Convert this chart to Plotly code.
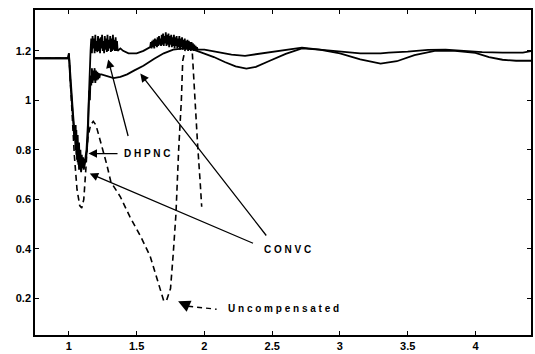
import plotly.graph_objects as go

# ---- data ----
dhpnc_x = [0.75, 0.995, 1.0, 1.01, 1.03, 1.045, 1.05, 1.055, 1.06, 1.065, 1.07, 1.075, 1.08, 1.085, 1.09,
           1.095, 1.10, 1.105, 1.11, 1.12, 1.13, 1.14, 1.145, 1.15, 1.155,
           1.160, 1.165, 1.170, 1.175, 1.180, 1.185, 1.190, 1.195, 1.200, 1.205, 1.210, 1.215, 1.220, 1.225,
           1.230, 1.235, 1.240, 1.245, 1.250, 1.255, 1.260, 1.265, 1.270, 1.275, 1.280, 1.285, 1.290, 1.295,
           1.300, 1.305, 1.310, 1.315, 1.320, 1.325, 1.330, 1.335, 1.340, 1.345, 1.350, 1.355, 1.360,
           1.38, 1.40, 1.44, 1.50, 1.55,
           1.600, 1.605, 1.610, 1.615, 1.620, 1.625, 1.630, 1.635, 1.640, 1.645, 1.650, 1.655, 1.660, 1.665,
           1.670, 1.675, 1.680, 1.685, 1.690, 1.695, 1.700, 1.705, 1.710, 1.715, 1.720, 1.725, 1.730, 1.735,
           1.740, 1.745, 1.750, 1.755, 1.760, 1.765, 1.770, 1.775, 1.780, 1.785, 1.790, 1.795, 1.800, 1.805,
           1.810, 1.815, 1.820, 1.825, 1.830, 1.835, 1.840, 1.845, 1.850, 1.855, 1.860, 1.865, 1.870, 1.875,
           1.880, 1.885, 1.890, 1.895, 1.900, 1.905, 1.910, 1.915, 1.920, 1.925, 1.930, 1.935, 1.940, 1.945,
           1.950, 1.97, 2.0, 2.1, 2.2, 2.3, 2.4, 2.5, 2.6, 2.72, 2.85, 3.0,
           3.15, 3.3, 3.36, 3.5, 3.65, 3.78, 3.9, 4.05, 4.2, 4.35, 4.42]
dhpnc_y = [1.17, 1.17, 1.19, 1.10, 0.95, 0.85, 0.80, 0.88, 0.76, 0.86, 0.74, 0.83, 0.73, 0.80, 0.72,
           0.78, 0.73, 0.77, 0.74, 0.76, 0.80, 0.90, 1.00, 1.10, 1.16,
           1.20, 1.25, 1.19, 1.26, 1.21, 1.25, 1.19, 1.265, 1.20, 1.24, 1.195, 1.26, 1.20, 1.25,
           1.19, 1.255, 1.21, 1.265, 1.20, 1.24, 1.19, 1.26, 1.205, 1.25, 1.195, 1.265, 1.20, 1.245,
           1.21, 1.26, 1.195, 1.25, 1.20, 1.265, 1.205, 1.245, 1.20, 1.255, 1.20, 1.24, 1.20,
           1.21, 1.20, 1.19, 1.19, 1.20,
           1.215, 1.235, 1.21, 1.24, 1.215, 1.245, 1.21, 1.25, 1.22, 1.245, 1.215, 1.255, 1.22, 1.26,
           1.225, 1.25, 1.22, 1.265, 1.225, 1.27, 1.22, 1.26, 1.23, 1.275, 1.22, 1.265, 1.225, 1.27,
           1.215, 1.26, 1.225, 1.265, 1.215, 1.255, 1.22, 1.265, 1.21, 1.255, 1.22, 1.26, 1.21, 1.25,
           1.215, 1.26, 1.205, 1.25, 1.215, 1.255, 1.205, 1.245, 1.21, 1.25, 1.205, 1.24, 1.21, 1.245,
           1.20, 1.24, 1.205, 1.235, 1.20, 1.235, 1.205, 1.23, 1.20, 1.225, 1.20, 1.22, 1.20, 1.215,
           1.205, 1.205, 1.205, 1.195, 1.185, 1.18, 1.188, 1.198, 1.205, 1.213, 1.205, 1.196,
           1.19, 1.19, 1.193, 1.197, 1.204, 1.205, 1.20, 1.195, 1.193, 1.193, 1.20]

convc_x = [0.75, 0.995, 1.0, 1.01, 1.03, 1.04, 1.05, 1.055, 1.06, 1.065, 1.07, 1.075, 1.08, 1.09, 1.10,
           1.11, 1.12, 1.13, 1.14, 1.145, 1.15, 1.155, 1.16, 1.165, 1.17, 1.175, 1.18, 1.185, 1.19, 1.195,
           1.20, 1.205, 1.21, 1.215, 1.22, 1.225, 1.23,
           1.24, 1.27, 1.30, 1.33, 1.38, 1.43, 1.48, 1.55, 1.63, 1.70, 1.77, 1.85, 1.92, 2.0, 2.07,
           2.15, 2.23, 2.31, 2.38, 2.47, 2.6, 2.72, 2.85, 3.0, 3.15, 3.3, 3.42, 3.55, 3.7, 3.85,
           4.0, 4.1, 4.2, 4.3, 4.42]
convc_y = [1.17, 1.17, 1.19, 1.08, 0.93, 0.84, 0.90, 0.78, 0.86, 0.75, 0.82, 0.72, 0.78, 0.71, 0.76,
           0.72, 0.75, 0.78, 0.85, 0.95, 1.04, 1.00, 1.10, 1.06, 1.13, 1.07, 1.12, 1.08, 1.13, 1.07,
           1.12, 1.08, 1.115, 1.085, 1.11, 1.09, 1.105,
           1.105, 1.10, 1.095, 1.09, 1.095, 1.105, 1.12, 1.14, 1.168, 1.19, 1.205, 1.21, 1.205, 1.19, 1.175,
           1.155, 1.137, 1.128, 1.135, 1.157, 1.188, 1.21, 1.205, 1.19, 1.166, 1.148, 1.158, 1.183, 1.20, 1.20,
           1.192, 1.175, 1.164, 1.16, 1.16]

uncomp_x = [0.75, 0.995, 1.0, 1.02, 1.04, 1.06, 1.08, 1.095, 1.11, 1.125, 1.14, 1.16, 1.18, 1.20, 1.22,
            1.25, 1.28, 1.31, 1.38, 1.45, 1.53, 1.60, 1.65, 1.68, 1.70, 1.72, 1.75, 1.77, 1.79, 1.81,
            1.83, 1.84, 1.86, 1.88, 1.90, 1.91, 1.93, 1.95, 1.97, 1.98]
uncomp_y = [1.17, 1.17, 1.19, 0.98, 0.78, 0.64, 0.575, 0.565, 0.60, 0.72, 0.85, 0.90, 0.915, 0.90, 0.86,
            0.81, 0.74, 0.67, 0.61, 0.53, 0.45, 0.37, 0.28, 0.22, 0.19, 0.19, 0.24, 0.38, 0.54, 0.80,
            1.00, 1.16, 1.21, 1.23, 1.22, 1.20, 1.00, 0.82, 0.66, 0.57]

x_ticks = [1, 1.5, 2, 2.5, 3, 3.5, 4]
x_tick_labels = ["1", "1.5", "2", "2.5", "3", "3.5", "4"]
y_ticks = [0.2, 0.4, 0.6, 0.8, 1.0, 1.2]
y_tick_labels = ["0.2", "0.4", "0.6", "0.8", "1", "1.2"]

fig = go.Figure()
fig.add_trace(go.Scatter(x=uncomp_x, y=uncomp_y, mode="lines",
                         line=dict(color="black", width=1.6, dash="6px,4px")))
fig.add_trace(go.Scatter(x=convc_x, y=convc_y, mode="lines",
                         line=dict(color="black", width=1.8)))
fig.add_trace(go.Scatter(x=dhpnc_x, y=dhpnc_y, mode="lines",
                         line=dict(color="black", width=1.8)))

font_b = dict(family="Liberation Sans, Arial, sans-serif", size=11, color="black", weight="bold")

# text labels
fig.add_annotation(x=1.58, y=0.785, text="D H P N C", showarrow=False, font=dict(**{**font_b, "size": 10}))
fig.add_annotation(x=2.61, y=0.396, text="C O N V C", showarrow=False, font=dict(**{**font_b, "size": 10}))
fig.add_annotation(x=2.58, y=0.158, text="U n c o m p e n s a t e d", showarrow=False,
                   font=dict(**{**font_b, "size": 10}))

# arrows (head at x,y ; tail at ax,ay)
arrows = [
    (1.145, 0.785, 1.37, 0.785),
    (1.29, 1.165, 1.44, 0.85),
    (1.154, 0.704, 2.37, 0.42),
    (1.527, 1.108, 2.465, 0.448),
]
for hx, hy, tx, ty in arrows:
    fig.add_annotation(x=hx, y=hy, ax=tx, ay=ty, xref="x", yref="y", axref="x", ayref="y",
                       text="", showarrow=True, arrowhead=2, arrowsize=1.3, arrowwidth=1.3,
                       arrowcolor="black")

# dashed leader for "Uncompensated"
fig.add_shape(type="line", x0=1.88, y0=0.168, x1=2.09, y1=0.156, xref="x", yref="y",
              line=dict(color="black", width=1.4, dash="5px,4px"))
fig.add_annotation(x=1.806, y=0.188, ax=1.88, ay=0.17, xref="x", yref="y", axref="x", ayref="y",
                   text="", showarrow=True, arrowhead=2, arrowsize=1.6, arrowwidth=1.5,
                   arrowcolor="black")

axis_common = dict(showline=True, linecolor="black", linewidth=1.5, mirror="ticks",
                   ticks="inside", ticklen=4, tickwidth=1, tickcolor="black",
                   showgrid=False, zeroline=False, tickfont=font_b)

fig.update_xaxes(range=[0.75, 4.41], tickvals=x_ticks, ticktext=x_tick_labels, **axis_common)
fig.update_yaxes(range=[0.052, 1.365], tickvals=y_ticks, ticktext=y_tick_labels, **axis_common)

fig.update_layout(width=535, height=354, margin=dict(l=35, r=2, t=10, b=16),
                  paper_bgcolor="white", plot_bgcolor="white", showlegend=False)

fig.write_html("out.html")
